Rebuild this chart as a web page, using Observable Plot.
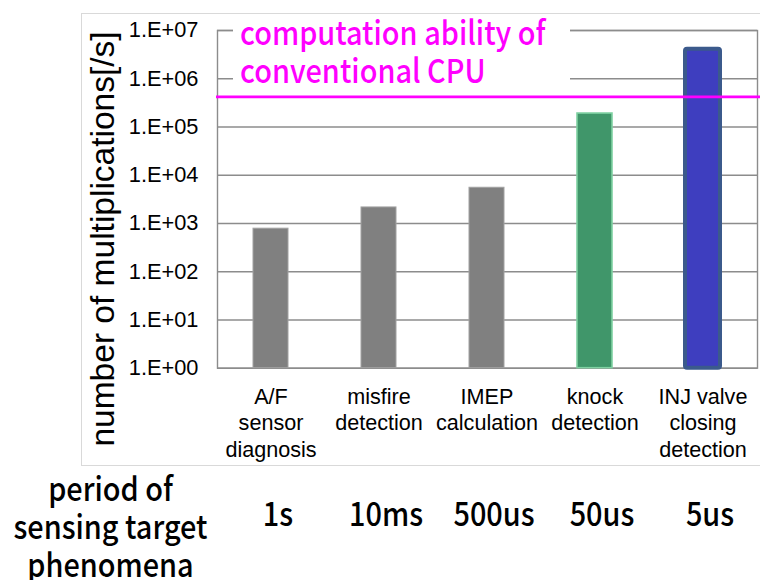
<!DOCTYPE html>
<html>
<head>
<meta charset="utf-8">
<script src="https://cdn.jsdelivr.net/npm/d3@7"></script>
<script src="https://cdn.jsdelivr.net/npm/@observablehq/plot@0.6"></script>
<style>
  body { margin: 0; background: #fff; }
  #wrap { position: relative; width: 760px; height: 580px; overflow: hidden; }
  #cpu-note {
    position: absolute; left: 233px; top: 12px; width: 330px; height: 82px;
    padding-left: 7px; background: #fff; color: #ff00ff;
    font: 500 33px "Noto Sans CJK JP", sans-serif; line-height: 38.3px; white-space: nowrap;
  }
  #cpu-note > div { transform: scaleX(0.875); transform-origin: 0 0; }
  #chart-border {
    position: absolute; left: 81px; top: 12.5px; width: 700px; height: 451px;
    border: 1.5px solid #d9d9d9; pointer-events: none;
  }
</style>
</head>
<body>
<div id="wrap"></div>
<script>
// Sensing tasks (axis categories, line breaks as shown under the bars)
const tasks = [
  "A/F\nsensor\ndiagnosis",
  "misfire\ndetection",
  "IMEP\ncalculation",
  "knock\ndetection",
  "INJ valve\nclosing\ndetection"
];
// Required number of multiplications per second for each task
const multiplications = [780, 2150, 5500, 190000, 4100000];
// Period of the sensed phenomenon for each task
const periods = ["1s", "10ms", "500us", "50us", "5us"];
// Computation ability of a conventional CPU [multiplications/s]
const cpuAbility = 420000;
// Decade ticks of the log axis
const yTicks = [1, 10, 100, 1000, 10000, 100000, 1000000, 10000000];

const yTitle = "number of multiplications[/s]";
const periodHeading = "period of\nsensing target\nphenomena";
const cpuNote = ["computation ability of", "conventional CPU"];

const rows = tasks.map((task, i) => ({task, value: multiplications[i], period: periods[i]}));

const sans = '"Liberation Sans", Arial, sans-serif';
const gothic = '"Noto Sans CJK JP", sans-serif';
const gothicSquash = 0.875; // narrower gothic glyphs
const gridColor = "#8c8c8c";

const fmt = d => "1.E+" + String(Math.round(Math.log10(d))).padStart(2, "0");

const chart = Plot.plot({
  width: 760,
  height: 580,
  marginLeft: 217,
  marginRight: 3,
  marginTop: 30,
  marginBottom: 212.3,
  style: {background: "transparent", fontFamily: sans, color: "#000"},
  x: {domain: tasks, paddingInner: 0.672, paddingOuter: 0.336, label: null},
  y: {type: "log", domain: [1, 1e7], label: null},
  marks: [
    Plot.ruleY(yTicks, {stroke: gridColor, strokeWidth: 1.4}),
    Plot.frame({stroke: gridColor, strokeWidth: 1.4}),
    // ordinary tasks
    Plot.barY(rows, {
      filter: (d, i) => i < 3,
      x: "task", y1: 1, y2: "value",
      fill: "#808080", stroke: "#a2a2a2", strokeWidth: 1
    }),
    // knock detection
    Plot.barY(rows, {
      filter: (d, i) => i === 3,
      x: "task", y1: 1, y2: "value",
      fill: "#40966a", stroke: "#7fd1a2", strokeWidth: 1.6
    }),
    // injector valve closing detection
    Plot.barY(rows, {
      filter: (d, i) => i === 4,
      x: "task", y1: 1, y2: "value",
      fill: "#3e3ebf", stroke: "#3b5a8c", strokeWidth: 4, rx: 2
    }),
    Plot.ruleY([cpuAbility], {stroke: "#ff00ff", strokeWidth: 2.6, insetLeft: -1, insetRight: -3}),
    Plot.axisY({
      ticks: yTicks, tickFormat: fmt, tickSize: 0, tickPadding: 19,
      fontSize: 21.8, fontFamily: sans, fill: "#000", label: null
    }),
    Plot.axisX({
      tickSize: 0, tickPadding: 17.6, fontSize: 21.6, lineHeight: 1.21,
      fontFamily: sans, fill: "#000", label: null
    }),
    Plot.text([yTitle], {
      text: d => d, frameAnchor: "left", textAnchor: "middle", rotate: -90, dx: -104, dy: 39.6,
      lineAnchor: "bottom", fontSize: 33.5, fontFamily: sans, fill: "#000"
    }),
    Plot.text([periodHeading], {
      text: d => d, frameAnchor: "bottom-left", textAnchor: "middle",
      dx: -107, dy: 208.3, lineAnchor: "bottom", lineHeight: 1.15,
      fontSize: 33, fontFamily: gothic, fontWeight: 500, fill: "#000"
    }),
    Plot.text(rows, {
      x: "task", text: "period", frameAnchor: "bottom", dx: 7, dy: 157.3,
      lineAnchor: "bottom", fontSize: 33, fontFamily: gothic, fontWeight: 500, fill: "#000"
    })
  ]
});

// Narrow the gothic labels horizontally around their anchors
chart.querySelectorAll('g[font-family*="Noto"] text').forEach(t => {
  const tr = t.getAttribute("transform") || "";
  t.setAttribute("transform", `${tr} scale(${gothicSquash},1)`);
});

const wrap = document.getElementById("wrap");
wrap.appendChild(chart);

const note = document.createElement("div");
note.id = "cpu-note";
const inner = document.createElement("div");
inner.innerHTML = cpuNote.join("<br>");
note.appendChild(inner);
wrap.appendChild(note);

const border = document.createElement("div");
border.id = "chart-border";
wrap.appendChild(border);
</script>
</body>
</html>
